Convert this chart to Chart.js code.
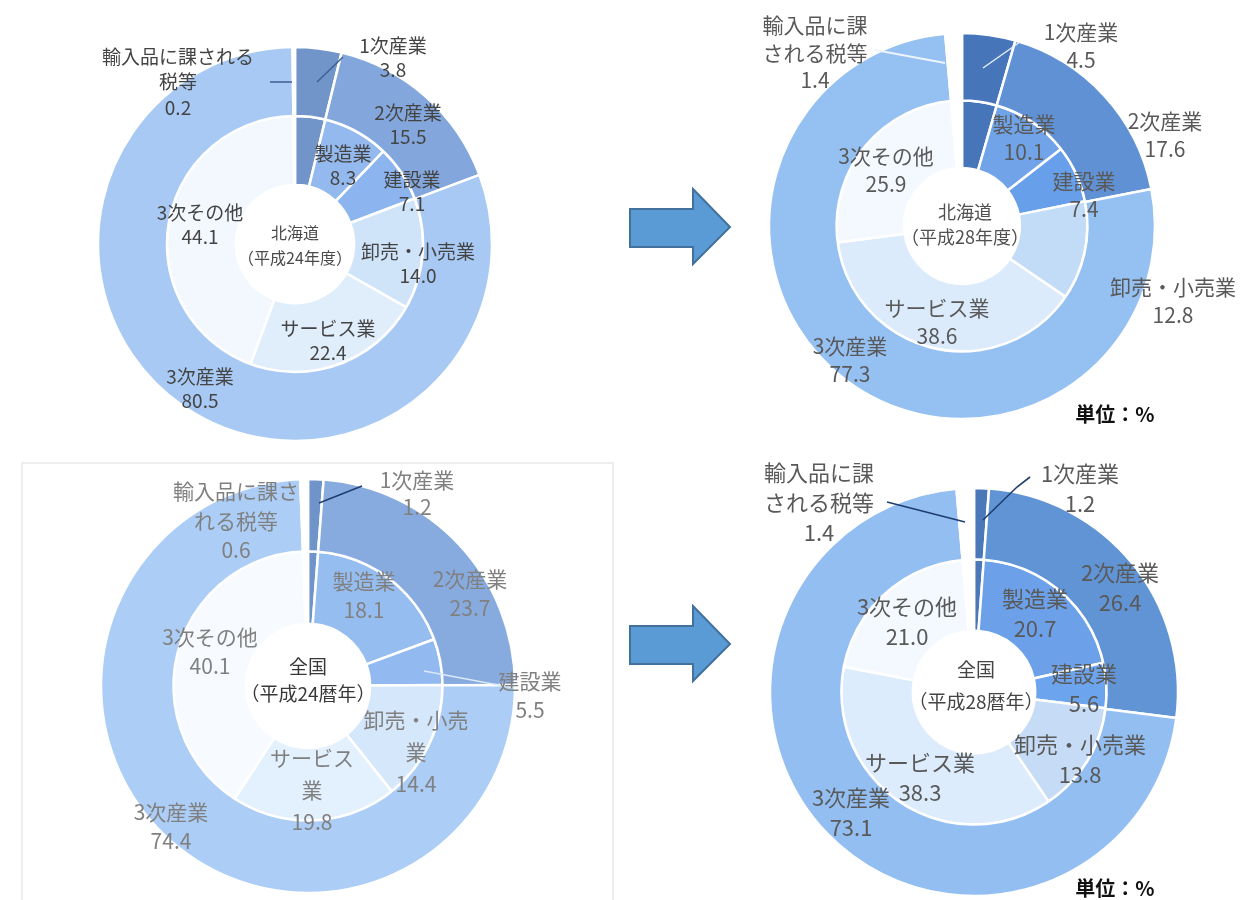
<!DOCTYPE html>
<html lang="ja">
<head>
<meta charset="utf-8">
<title>産業別構成比（北海道・全国）</title>
<script src="https://cdn.jsdelivr.net/npm/chart.js@4/dist/chart.umd.min.js"></script>
<style>
  html, body { margin: 0; padding: 0; background: #fff; }
  body { position: relative; width: 1253px; height: 900px; overflow: hidden;
         font-family: "Noto Sans CJK JP", "Noto Sans", sans-serif; }
  #deco { position: absolute; left: 0; top: 0; }
  canvas.panel { position: absolute; }
  .unit { position: absolute; font-weight: bold; font-size: 20px; color: #111;
          transform: translate(-50%, -50%); white-space: nowrap; }
</style>
</head>
<body>
<svg id="deco" width="1253" height="900" xmlns="http://www.w3.org/2000/svg">
  <!-- light frame around the lower-left panel -->
  <polyline points="22,900 22,463 613,463 613,900" fill="none" stroke="#e9e9e9" stroke-width="1.5"/>
  <!-- block arrows pointing from 平成24 to 平成28 -->
  <path d="M630,209 L693,209 L693,189 L730,227 L693,264 L693,247 L630,247 Z"
        fill="#5b9bd5" stroke="#41719c" stroke-width="2" stroke-linejoin="miter"/>
  <path d="M630,626 L693,626 L693,606 L730,644 L693,681 L693,664 L630,664 Z"
        fill="#5b9bd5" stroke="#41719c" stroke-width="2" stroke-linejoin="miter"/>
</svg>

<canvas id="hokkaidoH24" class="panel" width="600" height="500"></canvas>
<canvas id="hokkaidoH28" class="panel" width="600" height="500"></canvas>
<canvas id="zenkokuH24" class="panel" width="600" height="500"></canvas>
<canvas id="zenkokuH28" class="panel" width="600" height="500"></canvas>

<div class="unit" style="left:1115px; top:413px;">単位：%</div>
<div class="unit" style="left:1115px; top:887px;">単位：%</div>

<script>
// ---- categories -------------------------------------------------------
const outerCategories = ['1次産業', '2次産業', '3次産業', '輸入品に課される税等'];
const innerCategories = ['1次産業', '製造業', '建設業', '卸売・小売業', 'サービス業', '3次その他', '輸入品に課される税等'];

// ---- shares (%) : outer ring = broad sectors, inner ring = breakdown ---
const hokkaidoH24Outer = [3.8, 15.5, 80.5, 0.2];
const hokkaidoH24Inner = [3.8, 8.3, 7.1, 14.0, 22.4, 44.1, 0.2];

const hokkaidoH28Outer = [4.5, 17.6, 77.3, 1.4];
const hokkaidoH28Inner = [4.5, 10.1, 7.4, 12.8, 38.6, 25.9, 1.4];

const zenkokuH24Outer = [1.2, 23.7, 74.4, 0.6];
const zenkokuH24Inner = [1.2, 18.1, 5.5, 14.4, 19.8, 40.1, 0.6];

const zenkokuH28Outer = [1.2, 26.4, 73.1, 1.4];
const zenkokuH28Inner = [1.2, 20.7, 5.6, 13.8, 38.3, 21.0, 1.4];

// ---- centre captions ---------------------------------------------------
const titleHokkaidoH24 = ['北海道', '（平成24年度）'];
const titleHokkaidoH28 = ['北海道', '（平成28年度）'];
const titleZenkokuH24 = ['全国', '（平成24暦年）'];
const titleZenkokuH28 = ['全国', '（平成28暦年）'];

const FONT = '"Noto Sans CJK JP", "Noto Sans", sans-serif';
const CLEAR = 'rgba(255,255,255,0)';

// palette per panel: [1次, 2次, 3次] for the outer ring,
// [1次, 製造業, 建設業, 卸売・小売業, サービス業, 3次その他] for the inner ring
function ringColors(p) {
  return {
    outer: [p.primary, p.secondary, p.tertiary, CLEAR],
    inner: [p.primary, p.manuf, p.constr, p.trade, p.service, p.other, CLEAR]
  };
}

const panels = [
  {
    id: 'hokkaidoH24', cx: 295, cy: 244, radius: 197,
    outer: hokkaidoH24Outer, inner: hokkaidoH24Inner, title: titleHokkaidoH24,
    colors: ringColors({ primary: '#7194c9', secondary: '#83a7dc', tertiary: '#a7c9f4',
      manuf: '#93b9ee', constr: '#8cb5ef', trade: '#cfe3f9', service: '#e0eefc', other: '#f3f8fe' }),
    text: { size: 19, gap: 24, color: '#444' },
    centerText: { size: 16, gap: 25, color: '#4a4a4a', dx: 0, dy: 1 },
    labels: [
      { ring: 0, idx: 0, dx: 98, dy: -186 },
      { ring: 0, idx: 3, lines: ['輸入品に課される', '税等'], dx: -117, dy: -162, gap: 25.5 },
      { ring: 0, idx: 1, dx: 113, dy: -119 },
      { ring: 1, idx: 1, dx: 48, dy: -78 },
      { ring: 1, idx: 2, dx: 117, dy: -52 },
      { ring: 1, idx: 5, dx: -95, dy: -19 },
      { ring: 1, idx: 3, dx: 123, dy: 20 },
      { ring: 1, idx: 4, dx: 33, dy: 97 },
      { ring: 0, idx: 2, dx: -95, dy: 145 }
    ],
    leaders: [
      { pts: [[48, -187], [22, -162]], color: '#3d5f93', width: 1.5 },
      { pts: [[-25, -162], [-3, -162]], color: '#3d5f93', width: 1.5 }
    ]
  },
  {
    id: 'hokkaidoH28', cx: 962, cy: 226, radius: 193,
    outer: hokkaidoH28Outer, inner: hokkaidoH28Inner, title: titleHokkaidoH28,
    colors: ringColors({ primary: '#4676b9', secondary: '#6091d4', tertiary: '#95c0f2',
      manuf: '#71a3e8', constr: '#689fea', trade: '#c2dbf6', service: '#dbebfc', other: '#f4f9ff' }),
    text: { size: 21, gap: 28, color: '#595959' },
    centerText: { size: 18, gap: 25, color: '#505050', dx: 3, dy: -1 },
    labels: [
      { ring: 0, idx: 3, lines: ['輸入品に課', 'される税等'], dx: -147, dy: -173, gap: 27.5 },
      { ring: 0, idx: 0, dx: 119, dy: -180 },
      { ring: 0, idx: 1, dx: 203, dy: -91 },
      { ring: 1, idx: 1, dx: 62, dy: -88 },
      { ring: 1, idx: 2, dx: 122, dy: -31 },
      { ring: 1, idx: 5, dx: -76, dy: -56 },
      { ring: 1, idx: 3, dx: 211, dy: 75 },
      { ring: 1, idx: 4, dx: -25, dy: 96 },
      { ring: 0, idx: 2, dx: -112, dy: 134 }
    ],
    leaders: [
      { pts: [[58, -184], [21, -158]], color: '#e4edf9', width: 1.5 },
      { pts: [[-87, -176], [-17, -163]], color: '#eef4fc', width: 2 }
    ]
  },
  {
    id: 'zenkokuH24', cx: 308, cy: 686, radius: 207,
    outer: zenkokuH24Outer, inner: zenkokuH24Inner, title: titleZenkokuH24,
    colors: ringColors({ primary: '#6f94c9', secondary: '#87abdf', tertiary: '#abcdf6',
      manuf: '#96bdf0', constr: '#92baf0', trade: '#d4e7fb', service: '#e3f0fd', other: '#f7fbff' }),
    text: { size: 21, gap: 29, color: '#808080' },
    centerText: { size: 19, gap: 27, color: '#383838', dx: 0, dy: -6 },
    labels: [
      { ring: 0, idx: 3, lines: ['輸入品に課さ', 'れる税等'], dx: -72, dy: -165, gap: 29.5 },
      { ring: 0, idx: 0, dx: 109, dy: -192, gap: 27 },
      { ring: 0, idx: 1, dx: 162, dy: -92 },
      { ring: 1, idx: 1, dx: 56, dy: -90 },
      { ring: 1, idx: 5, dx: -98, dy: -34 },
      { ring: 1, idx: 2, dx: 222, dy: 10 },
      { ring: 1, idx: 3, lines: ['卸売・小売', '業'], dx: 108, dy: 66, gap: 32 },
      { ring: 1, idx: 4, lines: ['サービス', '業'], dx: 4, dy: 104, gap: 32 },
      { ring: 0, idx: 2, dx: -137, dy: 141 }
    ],
    leaders: [
      { pts: [[54, -200], [11, -183]], color: '#1f3d6e', width: 1.5 },
      { pts: [[206, 2], [116, -15]], color: '#dce9f8', width: 1.3 }
    ]
  },
  {
    id: 'zenkokuH28', cx: 974, cy: 692, radius: 204,
    outer: zenkokuH28Outer, inner: zenkokuH28Inner, title: titleZenkokuH28,
    colors: ringColors({ primary: '#4a78b8', secondary: '#6094d5', tertiary: '#92bef2',
      manuf: '#6ca1ea', constr: '#6ca4ee', trade: '#c6dcf6', service: '#ddecfc', other: '#f3f9ff' }),
    text: { size: 22, gap: 30, color: '#595959' },
    centerText: { size: 19, gap: 32, color: '#444', dx: 2, dy: -6 },
    labels: [
      { ring: 0, idx: 3, lines: ['輸入品に課', 'される税等'], dx: -155, dy: -189 },
      { ring: 0, idx: 0, dx: 106, dy: -203 },
      { ring: 0, idx: 1, dx: 146, dy: -104 },
      { ring: 1, idx: 1, dx: 61, dy: -78 },
      { ring: 1, idx: 5, dx: -67, dy: -70 },
      { ring: 1, idx: 2, dx: 110, dy: -3 },
      { ring: 1, idx: 3, dx: 106, dy: 68 },
      { ring: 1, idx: 4, dx: -54, dy: 86 },
      { ring: 0, idx: 2, dx: -123, dy: 121 }
    ],
    leaders: [
      { pts: [[-87, -190], [-9, -170]], color: '#1f3d6e', width: 1.6 },
      { pts: [[56, -215], [43, -205], [9, -172]], color: '#1f3d6e', width: 1.6 }
    ]
  }
];

const panelById = Object.fromEntries(panels.map(p => [p.id, p]));

// draws leader lines, data labels and the caption in the hole
const ringAnnotations = {
  id: 'ringAnnotations',
  afterDatasetsDraw(chart) {
    const p = panelById[chart.canvas.id];
    if (!p) return;
    const first = chart.getDatasetMeta(0).data[0];
    const cx = first.x, cy = first.y;
    const ctx = chart.ctx;
    ctx.save();

    p.leaders.forEach(l => {
      ctx.beginPath();
      ctx.strokeStyle = l.color;
      ctx.lineWidth = l.width;
      l.pts.forEach((pt, k) => k ? ctx.lineTo(cx + pt[0], cy + pt[1]) : ctx.moveTo(cx + pt[0], cy + pt[1]));
      ctx.stroke();
    });

    ctx.textAlign = 'center';
    ctx.textBaseline = 'middle';

    p.labels.forEach(lb => {
      const values = chart.data.datasets[lb.ring].data;
      const names = lb.lines || [(lb.ring === 0 ? outerCategories : innerCategories)[lb.idx]];
      const lines = names.concat([values[lb.idx].toFixed(1)]);
      const gap = lb.gap || p.text.gap;
      const top = cy + lb.dy - gap * (lines.length - 1) / 2;
      ctx.font = `${p.text.size}px ${FONT}`;
      ctx.fillStyle = p.text.color;
      lines.forEach((t, k) => ctx.fillText(t, cx + lb.dx, top + k * gap));
    });

    const c = p.centerText;
    ctx.font = `${c.size}px ${FONT}`;
    ctx.fillStyle = c.color;
    const top = cy + c.dy - c.gap * (p.title.length - 1) / 2;
    p.title.forEach((t, k) => ctx.fillText(t, cx + c.dx, top + k * c.gap));

    ctx.restore();
  }
};

panels.forEach(p => {
  const canvas = document.getElementById(p.id);
  canvas.style.left = (p.cx - canvas.width / 2) + 'px';
  canvas.style.top = (p.cy - canvas.height / 2) + 'px';

  new Chart(canvas, {
    type: 'doughnut',
    data: {
      labels: innerCategories,
      datasets: [
        { label: '産業大分類', data: p.outer, backgroundColor: p.colors.outer,
          borderColor: '#ffffff', borderWidth: 2.5, weight: 1 },
        { label: '産業内訳', data: p.inner, backgroundColor: p.colors.inner,
          borderColor: '#ffffff', borderWidth: 2.5, weight: 1 }
      ]
    },
    options: {
      responsive: false,
      animation: false,
      events: [],
      radius: p.radius,
      cutout: '30%',
      rotation: 0,
      hoverOffset: 0,
      layout: { padding: 0 },
      plugins: {
        legend: { display: false },
        tooltip: { enabled: false }
      }
    },
    plugins: [ringAnnotations]
  });
});
</script>
</body>
</html>
